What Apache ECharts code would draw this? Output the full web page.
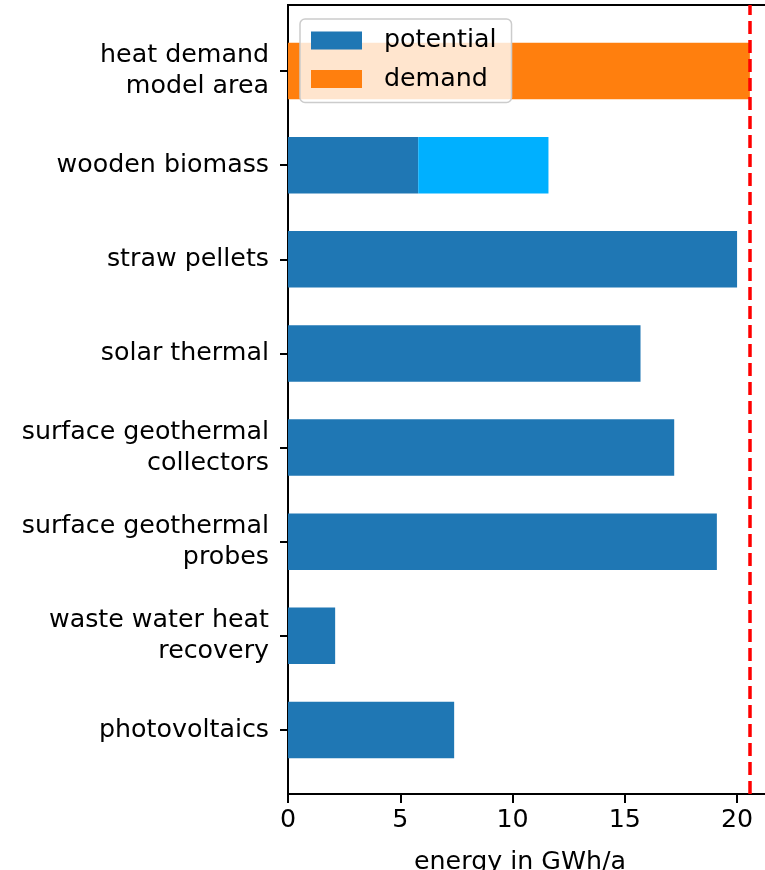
<!DOCTYPE html>
<html>
<head>
<meta charset="utf-8">
<script src="https://cdn.jsdelivr.net/npm/echarts@6/dist/echarts.min.js"></script>
<style>
  html, body { margin: 0; padding: 0; background: #fff; }
  #chart { width: 765px; height: 870px; }
</style>
</head>
<body>
<div id="chart"></div>
<script>
// Heat sources in the model area and their annual potential
const categories = [
  'heat demand\nmodel area',
  'wooden biomass',
  'straw pellets',
  'solar thermal',
  'surface geothermal\ncollectors',
  'surface geothermal\nprobes',
  'waste water heat\nrecovery',
  'photovoltaics'
];
const potential  = ['-', 5.8, 20.0, 15.7, 17.2, 19.1, 2.1, 7.4];
const additional = ['-', 5.8, '-', '-', '-', '-', '-', '-'];
const demand     = [20.57, '-', '-', '-', '-', '-', '-', '-'];
const demandLine = 20.57;
const xMax = 21.6;
const xTickStep = 5;

const FONT = 'DejaVu Sans';
const FS = 25.3;
const chart = echarts.init(document.getElementById('chart'), null, { renderer: 'canvas' });

chart.setOption({
  animation: false,
  backgroundColor: '#ffffff',
  textStyle: { fontFamily: FONT },
  grid: [
    // frame + x axis
    { left: 288, top: 5, width: 485, bottom: 76, show: true, borderColor: '#000', borderWidth: 2,
      backgroundColor: 'transparent', containLabel: false, outerBoundsMode: 'none' },
    // bar area
    { left: 288, top: 24, width: 485, bottom: 93, containLabel: false, outerBoundsMode: 'none' }
  ],
  xAxis: [
    { type: 'value', gridIndex: 0, min: 0, max: xMax, interval: xTickStep,
      name: 'energy in GWh/a', nameLocation: 'middle', nameGap: 56,
      nameTextStyle: { fontFamily: FONT, fontSize: FS, color: '#000', padding: [0, 21, 0, 0] },
      axisLine: { show: false },
      axisTick: { show: true, length: 9, lineStyle: { color: '#000', width: 2 } },
      axisLabel: { fontFamily: FONT, fontSize: FS, color: '#000', margin: 14 },
      splitLine: { show: false } },
    { type: 'value', gridIndex: 1, min: 0, max: xMax, show: false }
  ],
  yAxis: [
    { type: 'value', gridIndex: 0, min: 0, max: 1, show: false },
    { type: 'category', gridIndex: 1, data: categories, inverse: true,
      axisLine: { show: false },
      axisTick: { show: true, alignWithLabel: true, length: 8, lineStyle: { color: '#000', width: 2 } },
      axisLabel: { fontFamily: FONT, fontSize: FS, color: '#000', margin: 19, lineHeight: 31,
        align: 'right', padding: [5, 0, 0, 0] },
      splitLine: { show: false } }
  ],
  legend: {
    orient: 'vertical', left: 300, top: 19,
    padding: [9, 15, 11, 11],
    itemWidth: 51, itemHeight: 18, itemGap: 13.5,
    icon: 'rect',
    backgroundColor: 'rgba(255,255,255,0.8)',
    borderColor: '#cccccc', borderWidth: 1.5, borderRadius: 5,
    textStyle: { fontFamily: FONT, fontSize: FS, color: '#000', lineHeight: 18, padding: [0, 0, 0, 17] },
    data: ['potential', 'demand']
  },
  series: [
    { name: 'potential', type: 'bar', xAxisIndex: 1, yAxisIndex: 1, stack: 'total',
      barWidth: '60%', data: potential, itemStyle: { color: '#1f77b4' } },
    { name: 'additional', type: 'bar', xAxisIndex: 1, yAxisIndex: 1, stack: 'total',
      barWidth: '60%', data: additional, itemStyle: { color: '#00b0ff' } },
    { name: 'demand', type: 'bar', xAxisIndex: 1, yAxisIndex: 1, stack: 'total',
      barWidth: '60%', data: demand, itemStyle: { color: '#ff7f0e' } },
    { name: 'demand line', type: 'line', xAxisIndex: 0, yAxisIndex: 0, data: [], silent: true, z: 5,
      markLine: { silent: true, symbol: 'none', label: { show: false },
        lineStyle: { color: '#ff0000', width: 3.5, type: [13, 6] },
        data: [{ xAxis: demandLine }] } }
  ]
});
</script>
</body>
</html>
